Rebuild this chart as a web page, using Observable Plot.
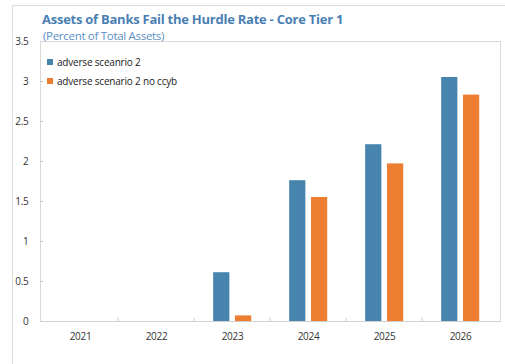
<!DOCTYPE html>
<html>
<head>
<meta charset="utf-8">
<script src="https://cdn.jsdelivr.net/npm/d3@7"></script>
<script src="https://cdn.jsdelivr.net/npm/@observablehq/plot@0.6"></script>
<style>
  html, body { margin: 0; padding: 0; background: #fff; }
  #wrap { position: relative; width: 505px; height: 364px; overflow: hidden; font-family: "Open Sans", sans-serif; }
  #box { position: absolute; left: 12px; top: 5px; width: 500px; height: 400px; border-left: 1px solid #dcdcdc; border-top: 1px solid #dcdcdc; }
  #chart { position: absolute; left: 0; top: 0; }
  .title { position: absolute; left: 42px; top: 10px; font-size: 13px; letter-spacing: -0.25px; font-weight: 700; color: #4a7fb3; white-space: nowrap; }
  .subtitle { position: absolute; left: 43px; top: 28px; font-size: 11.5px; letter-spacing: -0.3px; color: #5b8fc4; white-space: nowrap; }
  .leg { position: absolute; left: 47px; font-size: 10px; letter-spacing: -0.2px; color: #222; white-space: nowrap; line-height: 14px; }
  .leg span.sw { display: inline-block; width: 6px; height: 6px; margin-right: 4px; vertical-align: 1px; }
</style>
</head>
<body>
<div id="wrap">
  <div id="box"></div>
  <div id="chart"></div>
  <div class="title">Assets of Banks Fail the Hurdle Rate - Core Tier 1</div>
  <div class="subtitle">(Percent of Total Assets)</div>
</div>
<script>
const years = ["2021", "2022", "2023", "2024", "2025", "2026"];
const seriesNames = ["adverse sceanrio 2", "adverse scenario 2 no ccyb"];
const adverse2 = [0, 0, 0.61, 1.76, 2.21, 3.05];
const adverse2NoCcyb = [0, 0, 0.07, 1.55, 1.97, 2.83];
const yTicks = [0, 0.5, 1, 1.5, 2, 2.5, 3, 3.5];
const colors = ["#4785af", "#ed7d31"];

const dataA = years.map((y, i) => ({year: y, value: adverse2[i]}));
const dataB = years.map((y, i) => ({year: y, value: adverse2NoCcyb[i]}));

const W = 505, H = 364, mL = 40, mR = 5, mT = 41, mB = 43;
const band = (W - mL - mR) / years.length;

const chart = Plot.plot({
  width: W, height: H,
  marginLeft: mL, marginRight: mR, marginTop: mT, marginBottom: mB,
  style: {fontFamily: "'Open Sans', sans-serif", fontSize: "10px", color: "#333", background: "transparent", letterSpacing: "-0.3px"},
  x: {domain: years, padding: 0, label: null},
  y: {domain: [0, 3.5], label: null},
  marks: [
    Plot.frame({stroke: "#d9d9d9"}),
    Plot.barY(dataA, {x: "year", y: "value", fill: colors[0], insetLeft: band * 0.25, insetRight: band * 0.53}),
    Plot.barY(dataB, {x: "year", y: "value", fill: colors[1], insetLeft: band * 0.535, insetRight: band * 0.245}),
    Plot.ruleX(years.slice(1), {x: d => d, dx: -band / 2, y1: 0, y2: 0.04, stroke: "#cfcfcf"}),
    Plot.ruleY(yTicks.slice(1, -1), {y: d => d, insetRight: W - mL - mR - 3, stroke: "#bfbfbf"}),
    Plot.ruleY([0], {stroke: "#d0d0d0"}),
    Plot.axisX({tickSize: 0, tickPadding: 11, fontSize: 10, fill: "#333"}),
    Plot.axisY({ticks: yTicks, tickSize: 0, tickPadding: 12, tickFormat: d => String(d), fontSize: 10, fill: "#333"})
  ]
});
document.getElementById("chart").appendChild(chart);

const wrap = document.getElementById("wrap");
seriesNames.forEach((name, i) => {
  const div = document.createElement("div");
  div.className = "leg";
  div.style.top = (55 + i * 19) + "px";
  div.innerHTML = `<span class="sw" style="background:${colors[i]}"></span>${name}`;
  wrap.appendChild(div);
});
</script>
</body>
</html>
